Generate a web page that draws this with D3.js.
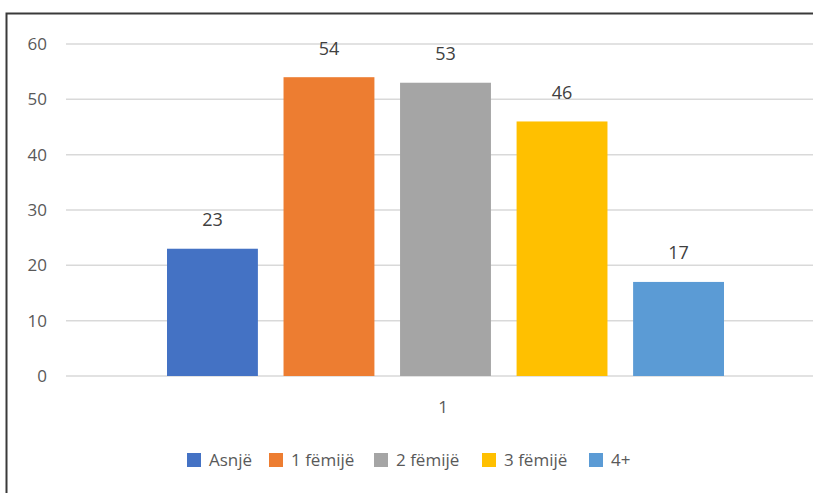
<!DOCTYPE html>
<html>
<head>
<meta charset="utf-8">
<script src="https://cdn.jsdelivr.net/npm/d3@7"></script>
<style>
  body { margin: 0; background: #fff; }
  svg { display: block; }
</style>
</head>
<body>
<svg id="chart" width="813" height="493"></svg>
<script>
let categories = ["1"];
let seriesNames = ["Asnjë", "1 fëmijë", "2 fëmijë", "3 fëmijë", "4+"];
let seriesValues = [23, 54, 53, 46, 17];
let seriesColors = ["#4472c4", "#ed7d31", "#a5a5a5", "#ffc000", "#5b9bd5"];
let yTicks = [0, 10, 20, 30, 40, 50, 60];

let svg = d3.select("#chart");
let textColor = "#595959";
let fontFamily = "'Open Sans', 'Noto Sans', sans-serif";

// outer frame (only top & left edges fall inside the picture)
svg.append("rect")
  .attr("x", 6.5)
  .attr("y", 13.5)
  .attr("width", 900)
  .attr("height", 600)
  .style("fill", "none")
  .style("stroke", "#3a3a3a")
  .style("stroke-width", 2);

let plotLeft = 66;
let plotRight = 822;

let y = d3.scaleLinear()
  .domain([0, 60])
  .range([376, 44]);

let x0 = d3.scaleBand()
  .domain(categories)
  .range([plotLeft, plotRight]);

let x1 = d3.scaleBand()
  .domain(seriesNames)
  .range([x0("1") + 101, x0("1") + x0.bandwidth() - 98])
  .paddingInner(0.22);

// gridlines
svg.selectAll(".grid")
  .data(yTicks)
  .enter()
  .append("line")
  .attr("x1", plotLeft)
  .attr("x2", plotRight)
  .attr("y1", d => y(d))
  .attr("y2", d => y(d))
  .style("stroke", "#d9d9d9")
  .style("stroke-width", 1.5);

// y tick labels
svg.selectAll(".ytick")
  .data(yTicks)
  .enter()
  .append("text")
  .attr("x", 47)
  .attr("y", d => y(d))
  .attr("dy", "0.35em")
  .text(d => d)
  .style("font-family", fontFamily)
  .style("font-size", "17px")
  .style("text-anchor", "end")
  .style("fill", textColor);

let bars = seriesNames.map((name, i) => ({ name: name, value: seriesValues[i], color: seriesColors[i] }));

svg.selectAll(".bar")
  .data(bars)
  .enter()
  .append("rect")
  .attr("x", d => x1(d.name))
  .attr("y", d => y(d.value))
  .attr("width", x1.bandwidth())
  .attr("height", d => y(0) - y(d.value))
  .style("fill", d => d.color);

// value labels
svg.selectAll(".label")
  .data(bars)
  .enter()
  .append("text")
  .attr("x", d => x1(d.name) + x1.bandwidth() / 2)
  .attr("y", d => y(d.value) - 29)
  .attr("dy", "0.35em")
  .text(d => d.value)
  .style("font-family", fontFamily)
  .style("font-size", "18px")
  .style("text-anchor", "middle")
  .style("fill", "#404040");

// x category label
svg.selectAll(".xtick")
  .data(categories)
  .enter()
  .append("text")
  .attr("x", d => x0(d) + x0.bandwidth() / 2 - 1)
  .attr("y", 407)
  .attr("dy", "0.35em")
  .text(d => d)
  .style("font-family", fontFamily)
  .style("font-size", "17px")
  .style("text-anchor", "middle")
  .style("fill", textColor);

// legend
let legendX = [187, 269, 374, 482, 589];
let legend = svg.selectAll(".legend")
  .data(bars)
  .enter()
  .append("g")
  .attr("transform", (d, i) => "translate(" + legendX[i] + ", 460)");

legend.append("rect")
  .attr("x", 0)
  .attr("y", -7)
  .attr("width", 14)
  .attr("height", 14)
  .style("fill", d => d.color);

legend.append("text")
  .attr("x", 22)
  .attr("y", 0)
  .attr("dy", "0.35em")
  .text(d => d.name)
  .style("font-family", fontFamily)
  .style("font-size", "17px")
  .style("fill", textColor);
</script>
</body>
</html>
